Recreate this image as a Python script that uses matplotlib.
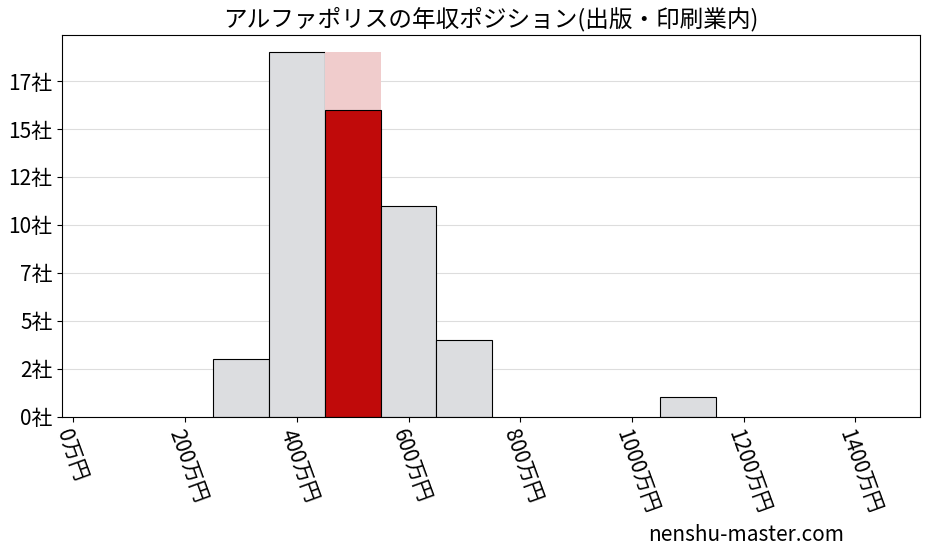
import matplotlib.pyplot as plt

plt.rcParams['font.family'] = ['Noto Sans CJK JP', 'DejaVu Sans']

# 年収の階級(万円)と企業数
bin_left = [250, 350, 450, 550, 650, 1050]
counts = [3, 19, 16, 11, 4, 1]
highlight_bin = 450
highlight_total = 19
x_ticks = [0, 200, 400, 600, 800, 1000, 1200, 1400]
y_ticks = [0, 2.5, 5, 7.5, 10, 12.5, 15, 17.5]

fig, ax = plt.subplots(figsize=(9.28, 5.57), dpi=100)

for left, c in zip(bin_left, counts):
    if left == highlight_bin:
        ax.bar(left, highlight_total, width=100, align='edge', color='#f0cccc', edgecolor='none')
        ax.bar(left, c, width=100, align='edge', color='#c00a0a', edgecolor='black', linewidth=0.8)
    else:
        ax.bar(left, c, width=100, align='edge', color='#dcdde0', edgecolor='black', linewidth=0.8)

ax.set_xlim(-20, 1515)
ax.set_ylim(0, 19.9)
ax.set_xticks(x_ticks)
ax.set_xticklabels([f"{t}万円" for t in x_ticks], rotation=-70, ha='left', rotation_mode='anchor', fontsize=15)
ax.set_yticks(y_ticks)
ax.set_yticklabels([f"{int(t)}社" for t in y_ticks], fontsize=15)
ax.grid(axis='y', color='#dddddd', linewidth=0.8)
ax.set_axisbelow(True)
ax.set_title("アルファポリスの年収ポジション(出版・印刷業内)", fontsize=17)

fig.subplots_adjust(left=0.067, right=0.991, top=0.937, bottom=0.252)
fig.text(0.91, 0.02, "nenshu-master.com", fontsize=15, ha='right', va='bottom')

plt.savefig("out.png")
plt.close()
